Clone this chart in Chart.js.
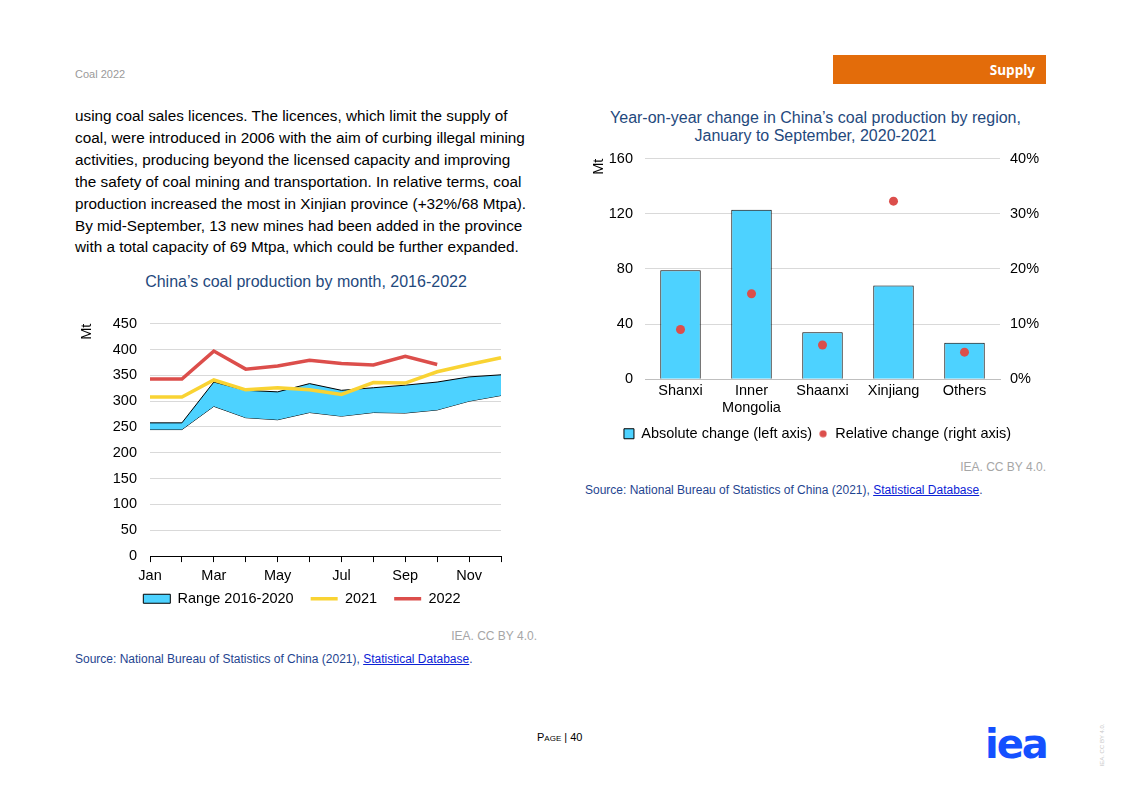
<!DOCTYPE html>
<html>
<head>
<meta charset="utf-8">
<script src="https://cdn.jsdelivr.net/npm/chart.js@4.4.1/dist/chart.umd.min.js"></script>
<style>
  body { margin: 0; width: 1122px; height: 793px; background: #fff; position: relative; overflow: hidden;
         font-family: "Liberation Sans", Arial, sans-serif; color: #000; }
  .abs { position: absolute; }
  .header { left: 75px; top: 68px; font-size: 11px; color: #9a9a9a; }
  .tab { left: 833px; top: 55px; width: 213px; height: 29px; background: #E36C0A; }
  .tab span { position: absolute; right: 11px; top: 6px; color: #fff; font-weight: bold; font-size: 13.5px;
              font-family: "Open Sans", "Liberation Sans", sans-serif; }
  .para { left: 75px; top: 105px; font-size: 15.3px; line-height: 21.9px; white-space: nowrap; }
  .ctitle { color: #1F497D; font-size: 16px; text-align: center; line-height: 18.4px; white-space: nowrap; }
  .credit { font-size: 12px; color: #a6a6a6; text-align: right; }
  .source { font-size: 12px; color: #1F4590; white-space: nowrap; }
  .source a { color: #0B22D6; text-decoration: underline; }
  .page { left: 537px; top: 731px; font-size: 11px; font-variant: small-caps; }
  .logo { left: 985px; top: 721px; font-size: 40px; font-weight: bold; color: #1450FF; letter-spacing: -2px;
          font-family: "DejaVu Sans", sans-serif; }
  .vert { left: 1081px; top: 742px; font-size: 6px; color: #c8c8c8; transform: rotate(-90deg); white-space: nowrap; }
</style>
</head>
<body>
<div class="abs header">Coal 2022</div>
<div class="abs tab"><span>Supply</span></div>

<div class="abs para">using coal sales licences. The licences, which limit the supply of<br>
coal, were introduced in 2006 with the aim of curbing illegal mining<br>
activities, producing beyond the licensed capacity and improving<br>
the safety of coal mining and transportation. In relative terms, coal<br>
production increased the most in Xinjian province (+32%/68 Mtpa).<br>
By mid-September, 13 new mines had been added in the province<br>
with a total capacity of 69 Mtpa, which could be further expanded.</div>

<div class="abs ctitle" style="left:75px; width:462px; top:273px;">China’s coal production by month, 2016-2022</div>
<div class="abs" style="left:75px; top:302px; width:450px; height:314px;"><canvas id="monthChart"></canvas></div>
<div class="abs credit" style="left:300px; width:237px; top:629px;">IEA. CC BY 4.0.</div>
<div class="abs source" style="left:75px; top:652px;">Source: National Bureau of Statistics of China (2021), <a>Statistical Database</a>.</div>

<div class="abs ctitle" style="left:585px; width:461px; top:109px;">Year-on-year change in China’s coal production by region,<br>January to September, 2020-2021</div>
<div class="abs" style="left:585px; top:138px; width:465px; height:313px;"><canvas id="regionChart"></canvas></div>
<div class="abs credit" style="left:800px; width:246px; top:460px;">IEA. CC BY 4.0.</div>
<div class="abs source" style="left:585px; top:483px;">Source: National Bureau of Statistics of China (2021), <a>Statistical Database</a>.</div>

<div class="abs page">Page | 40</div>
<div class="abs logo">iea</div>
<div class="abs vert">IEA. CC BY 4.0.</div>

<script>
// Monthly production (Mt)
const months = ['Jan', 'Feb', 'Mar', 'Apr', 'May', 'Jun', 'Jul', 'Aug', 'Sep', 'Oct', 'Nov', 'Dec'];
const rangeLow = [245, 245, 290, 268, 264, 278, 271, 278, 277, 283, 300, 311];
const rangeHigh = [258, 258, 337, 321, 318, 334, 321, 326, 331, 337, 347, 351];
const prod2021 = [308, 308, 341, 322, 326, 322, 313, 336, 335, 357, 371, 384];
const prod2022 = [343, 343, 397, 362, 368, 379, 373, 370, 387, 371];

// Year-on-year change by region
const regions = [['Shanxi'], ['Inner', 'Mongolia'], ['Shaanxi'], ['Xinjiang'], ['Others']];
const absChange = [79, 123, 34, 68, 26.5];
const relChange = [9.0, 15.5, 6.2, 32.3, 4.9];

const CYAN = '#4DD2FF';
const YELLOW = '#F9D333';
const RED = '#DC4E4B';
const GRID = '#d9d9d9';
const FONT = 'Liberation Sans';
const LEGEND_PULL = 15;  // legend sits closer to the month labels than its item spacing
const LEGEND_SHIFT = 14; // legend row is centred a little right of the canvas centre

Chart.defaults.font.family = FONT;
Chart.defaults.color = '#000';
Chart.defaults.animation = false;

// keep the month labels from being clipped after the x box is shortened, nudge the legend
const tweakLayout = {
  id: 'tweakLayout',
  afterLayout(chart) {
    chart.scales.x.bottom += LEGEND_PULL;
    chart.legend.left += LEGEND_SHIFT;
    chart.legend.right += LEGEND_SHIFT;
  }
};

function buildMonthChart() {
  const ctx = document.getElementById('monthChart').getContext('2d');
  new Chart(ctx, {
    type: 'line',
    data: {
      labels: months,
      datasets: [
        { label: '', data: rangeLow, borderColor: '#000', borderWidth: 1, pointRadius: 0, fill: false, tension: 0, order: 4 },
        { label: 'Range 2016-2020', data: rangeHigh, borderColor: '#000', borderWidth: 1, backgroundColor: CYAN,
          pointRadius: 0, fill: '-1', tension: 0, order: 3, legendStyle: 'rect' },
        { label: '2021', data: prod2021, borderColor: YELLOW, borderWidth: 3.5, pointRadius: 0, order: 2, legendStyle: 'line' },
        { label: '2022', data: prod2022, borderColor: RED, borderWidth: 3.5, pointRadius: 0, order: 1, legendStyle: 'line' }
      ]
    },
    plugins: [tweakLayout],
    options: {
      responsive: true,
      maintainAspectRatio: false,
      layout: { padding: { top: 0, right: 24, bottom: 0, left: 0 } },
      plugins: {
        tooltip: { enabled: false },
        legend: {
          position: 'bottom',
          labels: {
            usePointStyle: true,
            pointStyleWidth: 27,
            boxHeight: 9,
            padding: 17,
            font: { size: 14.5 },
            generateLabels: chart => chart.data.datasets
              .map((ds, i) => ({
                text: ds.label,
                datasetIndex: i,
                pointStyle: ds.legendStyle,
                fillStyle: ds.backgroundColor || ds.borderColor,
                strokeStyle: ds.borderColor,
                lineWidth: ds.legendStyle === 'line' ? 3.5 : 1
              }))
              .filter(item => item.text)
          }
        }
      },
      scales: {
        x: {
          offset: false,
          afterFit: s => { s.height -= LEGEND_PULL; },
          grid: { display: true, drawOnChartArea: false, drawTicks: true, tickLength: 6, color: '#000' },
          border: { display: true, color: '#000', width: 1 },
          ticks: {
            autoSkip: false, maxRotation: 0, padding: 5,
            font: { size: 14.5 },
            callback: (v, i) => (i % 2 === 0 ? months[i] : '')
          }
        },
        y: {
          min: 0, max: 450,
          afterFit: s => { s.width = 75; },
          grid: { color: GRID, drawTicks: false },
          border: { display: false },
          ticks: { stepSize: 50, padding: 13, font: { size: 14.5 } },
          title: { display: true, text: 'Mt', align: 'end', font: { size: 14.5 }, padding: { top: 3, bottom: 0 } }
        }
      }
    }
  });
}

function dotIcon() {
  const c = document.createElement('canvas');
  c.width = 8; c.height = 8;
  const g = c.getContext('2d');
  g.fillStyle = RED;
  g.beginPath(); g.arc(4, 4, 3.6, 0, Math.PI * 2); g.fill();
  return c;
}

function buildRegionChart() {
  const ctx = document.getElementById('regionChart').getContext('2d');
  const dot = dotIcon();
  new Chart(ctx, {
    data: {
      labels: regions,
      datasets: [
        { type: 'line', label: 'Relative change (right axis)', data: relChange, yAxisID: 'y1', showLine: false,
          pointRadius: 4.5, pointBackgroundColor: RED, pointBorderWidth: 0, borderColor: RED, order: 1 },
        { type: 'bar', label: 'Absolute change (left axis)', data: absChange, yAxisID: 'y',
          backgroundColor: CYAN, borderColor: '#000', borderWidth: 1, barPercentage: 0.57, categoryPercentage: 1, order: 2 }
      ]
    },
    options: {
      responsive: true,
      maintainAspectRatio: false,
      layout: { padding: { top: 0, right: 0, bottom: 0, left: 0 } },
      plugins: {
        tooltip: { enabled: false },
        legend: {
          position: 'bottom',
          labels: {
            usePointStyle: true,
            boxWidth: 10,
            boxHeight: 10,
            padding: 6,
            font: { size: 14.5 },
            sort: (a, b) => b.datasetIndex - a.datasetIndex,
            generateLabels: chart => chart.data.datasets.map((ds, i) => ({
              text: ds.label,
              datasetIndex: i,
              pointStyle: ds.type === 'bar' ? 'rect' : dot,
              fillStyle: ds.backgroundColor || RED,
              strokeStyle: '#000',
              lineWidth: 1
            }))
          }
        }
      },
      scales: {
        x: {
          grid: { display: false, drawTicks: false },
          border: { display: true, color: '#bfbfbf', width: 1 },
          ticks: { maxRotation: 0, autoSkip: false, padding: 4, font: { size: 14.5, lineHeight: 1.15 } }
        },
        y: {
          position: 'left',
          min: 0, max: 160,
          afterFit: s => { s.width = 60; },
          grid: { color: GRID, drawTicks: false },
          border: { display: false },
          ticks: { stepSize: 40, padding: 12, font: { size: 14.5 } },
          title: { display: true, text: 'Mt', align: 'end', font: { size: 14.5 }, padding: { top: 5, bottom: 0 } }
        },
        y1: {
          position: 'right',
          min: 0, max: 40,
          afterFit: s => { s.width = 50; },
          grid: { display: false, drawTicks: false },
          border: { display: false },
          ticks: { stepSize: 10, padding: 10, font: { size: 14.5 }, callback: v => v + '%' }
        }
      }
    }
  });
}

buildMonthChart();
buildRegionChart();
</script>
</body>
</html>
